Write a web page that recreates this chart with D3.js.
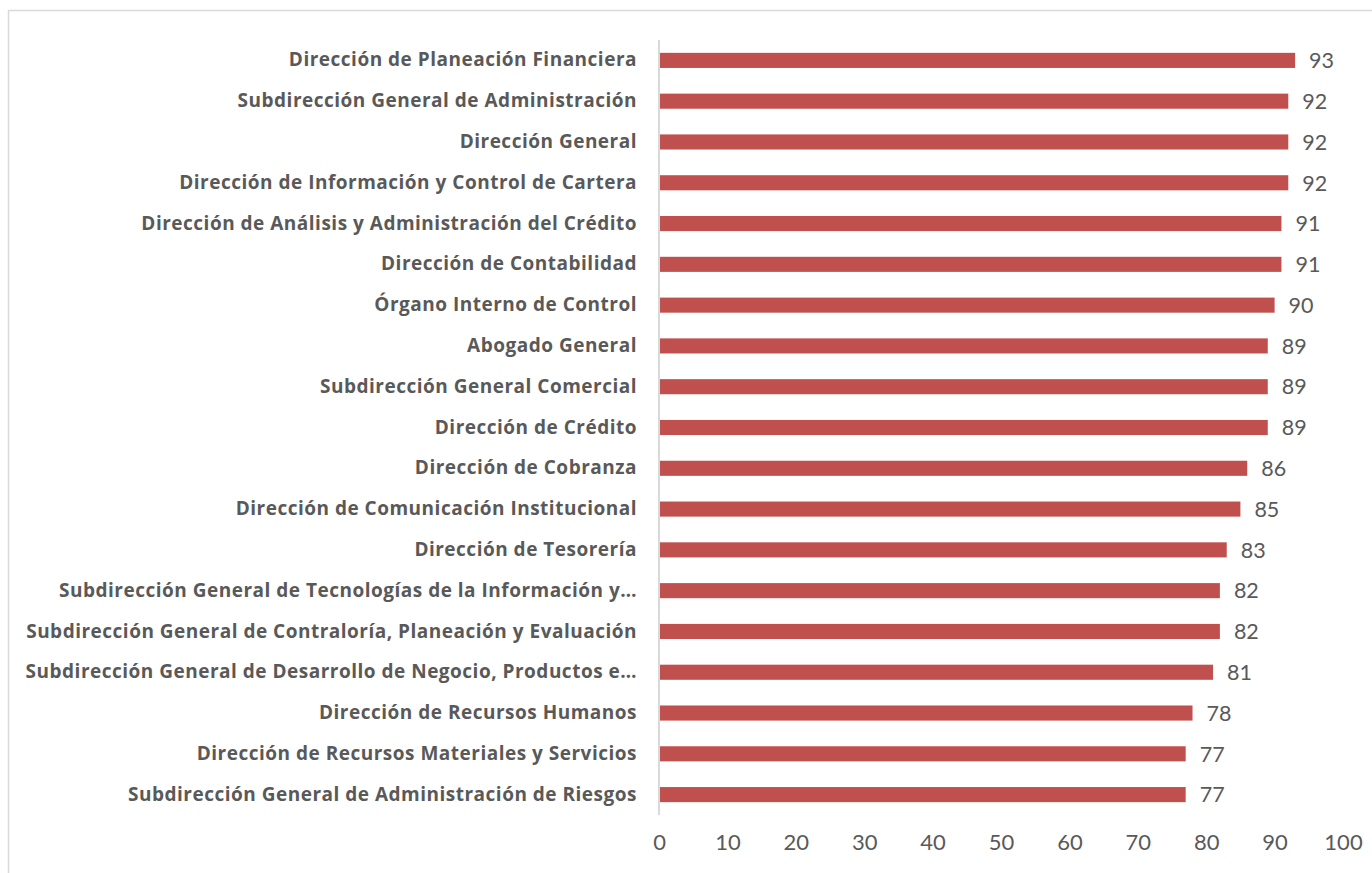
<!DOCTYPE html>
<html>
<head>
<meta charset="utf-8">
<script src="https://cdn.jsdelivr.net/npm/d3@7"></script>
<style>
  html, body { margin: 0; padding: 0; background: #fff; }
  svg { display: block; }
</style>
</head>
<body>
<script>
// Areas and their scores, listed top to bottom
const categories = [
  "Dirección de Planeación Financiera",
  "Subdirección General de Administración",
  "Dirección General",
  "Dirección de Información y Control de Cartera",
  "Dirección de Análisis y Administración del Crédito",
  "Dirección de Contabilidad",
  "Órgano Interno de Control",
  "Abogado General",
  "Subdirección General Comercial",
  "Dirección de Crédito",
  "Dirección de Cobranza",
  "Dirección de Comunicación Institucional",
  "Dirección de Tesorería",
  "Subdirección General de Tecnologías de la Información y…",
  "Subdirección General de Contraloría, Planeación y Evaluación",
  "Subdirección General de Desarrollo de Negocio, Productos e…",
  "Dirección de Recursos Humanos",
  "Dirección de Recursos Materiales y Servicios",
  "Subdirección General de Administración de Riesgos"
];
const values = [93, 92, 92, 92, 91, 91, 90, 89, 89, 89, 86, 85, 83, 82, 82, 81, 78, 77, 77];
const tickValues = [0, 10, 20, 30, 40, 50, 60, 70, 80, 90, 100];

const W = 1372, H = 873;
const plot = { left: 659, right: 1343, top: 40, bottom: 815 };

const svg = d3.select("body").append("svg")
  .attr("width", W).attr("height", H);

// chart frame
svg.append("rect")
  .attr("x", 8.5).attr("y", 10.5)
  .attr("width", W + 20).attr("height", H + 20)
  .attr("fill", "none").attr("stroke", "#d9d9d9").attr("stroke-width", 1.5);

const x = d3.scaleLinear().domain([0, 100]).range([plot.left, plot.right]);
const y = d3.scaleBand().domain(categories)
  .range([plot.top, plot.bottom]).paddingInner(0.63).paddingOuter(0.315);

// bars
svg.append("g").selectAll("rect")
  .data(values)
  .join("rect")
  .attr("x", x(0))
  .attr("y", (d, i) => y(categories[i]))
  .attr("width", d => x(d) - x(0))
  .attr("height", y.bandwidth())
  .attr("fill", "#c0504d");

// value labels
svg.append("g").selectAll("text")
  .data(values)
  .join("text")
  .attr("x", d => x(d) + 14)
  .attr("y", (d, i) => y(categories[i]) + y.bandwidth() / 2)
  .attr("dy", "0.36em")
  .attr("font-family", "Lato, 'Open Sans', sans-serif")
  .attr("font-size", 21.5)
  .attr("fill", "#595959")
  .text(d => d);

// category axis
const yAxis = svg.append("g")
  .attr("transform", `translate(${x(0)},0)`)
  .call(d3.axisLeft(y).tickSize(0).tickPadding(22));
yAxis.select(".domain")
  .attr("d", `M0,${plot.top}V${plot.bottom}`)
  .attr("stroke", "#d9d9d9").attr("stroke-width", 2);
yAxis.selectAll("text")
  .attr("font-family", "'Open Sans', Lato, sans-serif")
  .attr("font-weight", "bold")
  .attr("font-size", 19)
  .attr("letter-spacing", 0.5)
  .attr("fill", "#595959");

// value axis
const xAxis = svg.append("g")
  .attr("transform", `translate(0,${plot.bottom})`)
  .call(d3.axisBottom(x).tickValues(tickValues).tickSize(0).tickPadding(19));
xAxis.select(".domain").remove();
xAxis.selectAll("text")
  .attr("font-family", "Lato, 'Open Sans', sans-serif")
  .attr("font-size", 22)
  .attr("fill", "#595959");
</script>
</body>
</html>
